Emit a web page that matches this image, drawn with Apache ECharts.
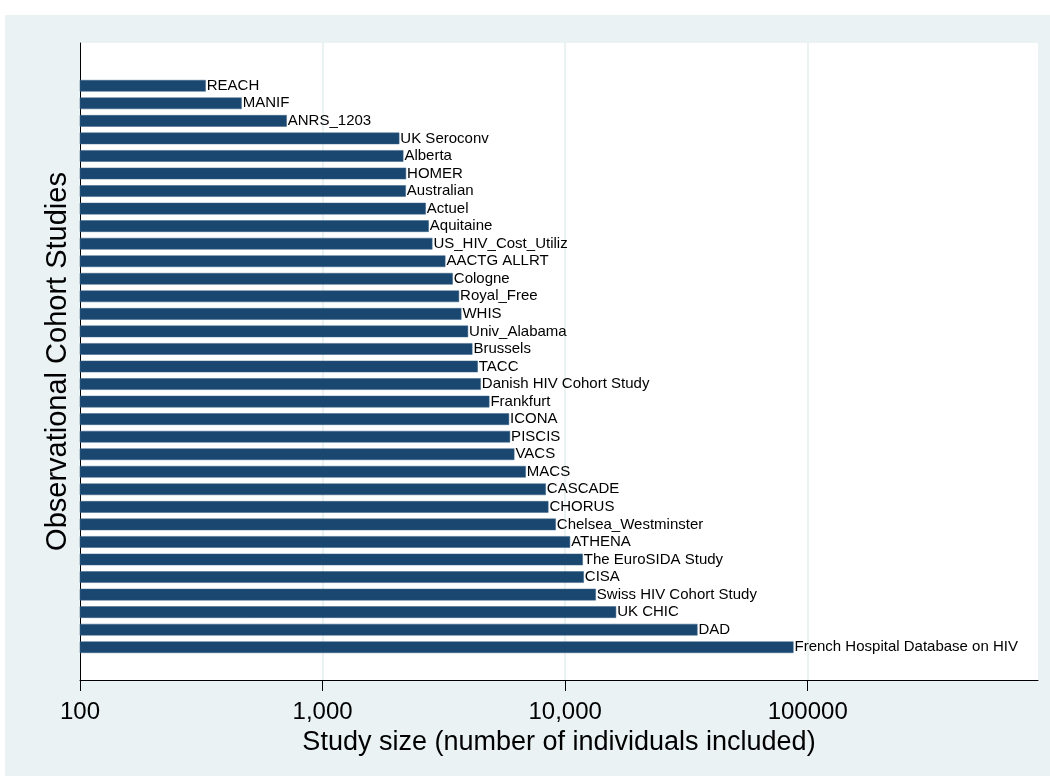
<!DOCTYPE html>
<html>
<head>
<meta charset="utf-8">
<script src="https://cdn.jsdelivr.net/npm/echarts@6/dist/echarts.min.js"></script>
<style>
  html, body { margin: 0; padding: 0; background: #ffffff; }
  #bg { position: absolute; left: 5px; top: 15px; width: 1045px; height: 761px; background: #eaf2f3; }
  #chart { position: absolute; left: 0; top: 0; width: 1050px; height: 776px; }
</style>
</head>
<body>
<div id="bg"></div>
<div id="chart"></div>
<script>
// Study names, top to bottom
const studies = [
  'REACH', 'MANIF', 'ANRS_1203', 'UK Seroconv', 'Alberta', 'HOMER', 'Australian',
  'Actuel', 'Aquitaine', 'US_HIV_Cost_Utiliz', 'AACTG ALLRT', 'Cologne', 'Royal_Free',
  'WHIS', 'Univ_Alabama', 'Brussels', 'TACC', 'Danish HIV Cohort Study', 'Frankfurt',
  'ICONA', 'PISCIS', 'VACS', 'MACS', 'CASCADE', 'CHORUS', 'Chelsea_Westminster',
  'ATHENA', 'The EuroSIDA Study', 'CISA', 'Swiss HIV Cohort Study', 'UK CHIC', 'DAD',
  'French Hospital Database on HIV'
];
// Study size (number of individuals included)
const studySize = [
  330, 464, 712, 2073, 2154, 2210, 2205,
  2665, 2741, 2837, 3209, 3443, 3655,
  3736, 3981, 4147, 4365, 4491, 4873,
  5876, 5932, 6178, 6885, 8326, 8533, 9155,
  10486, 11830, 11944, 13386, 16230, 35130,
  87390
];
const xTickValues = [100, 1000, 10000, 100000];
const xTickLabels = ['100', '1,000', '10,000', '100000'];
const xMin = 100;
const xMax = 890000;

const FONT = '"Liberation Sans", Arial, Helvetica, sans-serif';

const chart = echarts.init(document.getElementById('chart'), null, { renderer: 'canvas' });

const option = {
  backgroundColor: 'transparent',
  animation: false,
  textStyle: { fontFamily: FONT },
  grid: [
    { left: 80, right: 12, top: 43, bottom: 96, show: true, backgroundColor: '#ffffff', borderWidth: 0, containLabel: false },
    { left: 80, right: 12, top: 77, bottom: 120, containLabel: false }
  ],
  xAxis: [
    {
      type: 'log', gridIndex: 0, logBase: 10, min: xMin, max: xMax,
      axisLine: { show: true, lineStyle: { color: '#000000', width: 1 } },
      axisTick: { show: true, inside: false, length: 11, lineStyle: { color: '#000000', width: 1 }, customValues: xTickValues },
      axisLabel: {
        show: true, margin: 20, fontSize: 24, color: '#000000', fontFamily: FONT,
        customValues: xTickValues,
        formatter: function (v) {
          const i = xTickValues.findIndex(t => Math.abs(t - v) / t < 1e-6);
          return i >= 0 ? xTickLabels[i] : '';
        }
      },
      splitLine: { show: true, lineStyle: { color: '#eaf2f3', width: 2 } },
      name: 'Study size (number of individuals included)',
      nameLocation: 'middle', nameGap: 45,
      nameTextStyle: { fontSize: 27, color: '#000000', fontFamily: FONT }
    },
    {
      type: 'log', gridIndex: 1, logBase: 10, min: xMin, max: xMax, show: false,
      splitLine: { show: false }
    }
  ],
  yAxis: [
    {
      type: 'value', gridIndex: 0, min: 0, max: 1,
      axisLine: { show: true, lineStyle: { color: '#000000', width: 1 } },
      axisTick: { show: false }, axisLabel: { show: false }, splitLine: { show: false },
      name: 'Observational Cohort Studies', nameLocation: 'middle', nameRotate: 90, nameGap: 8,
      nameTextStyle: { fontSize: 29, color: '#000000', fontFamily: FONT }
    },
    {
      type: 'category', gridIndex: 1, data: studies, inverse: true, show: false
    }
  ],
  series: [
    {
      type: 'bar', xAxisIndex: 1, yAxisIndex: 1,
      data: studySize,
      barCategoryGap: '34%',
      itemStyle: { color: '#1a476f', borderColor: '#3a6387', borderWidth: 0.5 },
      label: {
        show: true, position: 'right', distance: 1,
        formatter: '{b}', color: '#000000', fontSize: 15, fontFamily: FONT
      }
    }
  ]
};
chart.setOption(option);
</script>
</body>
</html>
